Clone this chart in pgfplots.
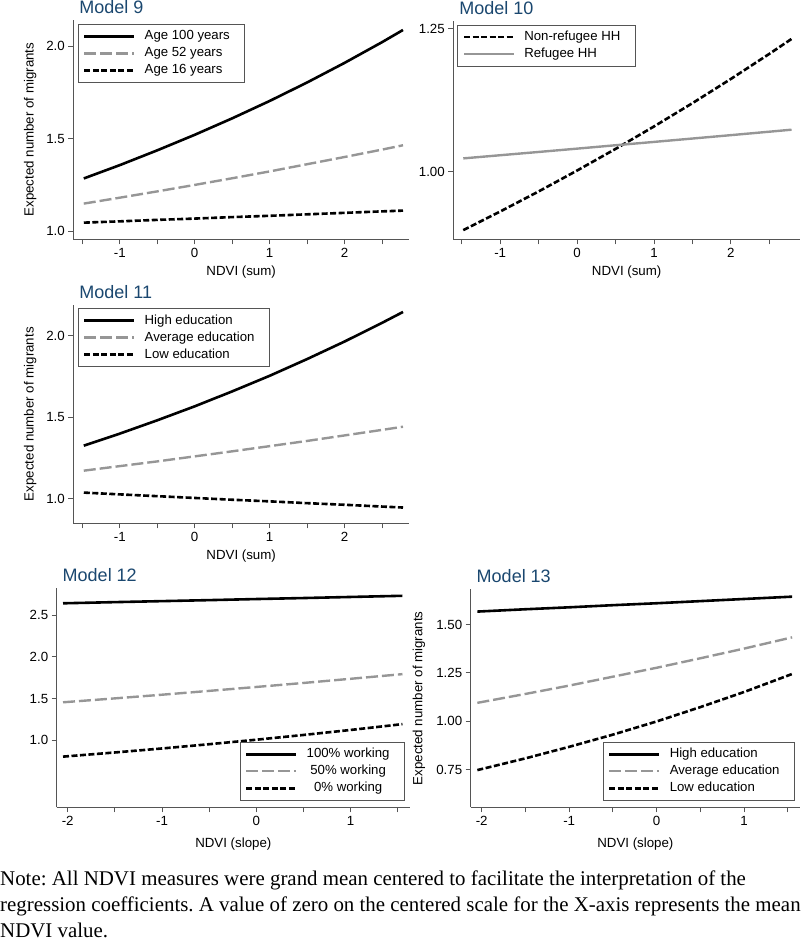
\documentclass[border=0pt]{standalone}
\usepackage{pgfplots}
\pgfplotsset{compat=1.18}
\usepackage{fontspec}
\setmainfont{Liberation Sans}
\newfontfamily\notefont{Liberation Serif}

\definecolor{statanavy}{RGB}{26,71,111}
\definecolor{midgray}{RGB}{150,150,150}
\definecolor{axgray}{RGB}{85,85,85}

\newcommand{\E}[1]{#1\hspace*{9.5pt}}

\pgfplotsset{
  legend image code/.code={\draw[#1] (0pt,0pt) -- (50pt,0pt);},
  panel/.style={
    scale only axis,
    anchor=south west,
    axis x line*=bottom,
    axis y line*=left,
    axis line style={axgray, line width=0.8pt, -},
    every tick/.style={axgray, line width=0.8pt},
    tick align=outside,
    major tick length=5pt,
    enlargelimits=false,
    tick label style={font=\fontsize{13.3}{15}\selectfont, text=black},
    xticklabel style={text height=9.8pt, text depth=0pt},
    yticklabel style={text height=9.8pt, text depth=0pt},
    label style={font=\fontsize{13.3}{15}\selectfont},
    title style={font=\fontsize{18}{20}\selectfont, text=statanavy,
      at={([xshift=2.5pt,yshift=0.5pt]axis description cs:0,1)}, anchor=base west},
    legend style={draw=axgray, line width=0.8pt, font=\fontsize{13.2}{15}\selectfont,
      inner sep=5pt, row sep=3pt, column sep=8.5pt,
      nodes={inner sep=0.5pt, text height=10pt, text depth=3pt}},
    legend cell align=left,
  },
  sumx/.style={xmin=-1.62, xmax=2.86,
    xtick={-1.5,-1,...,2.5}, xticklabels={{},{-1},{},{0},{},{1},{},{2},{}},
    xlabel={NDVI (sum)},
    xlabel style={at={([yshift=-33pt]axis description cs:0.5,0)}, anchor=center}},
  slopex/.style={
    xtick={-2,-1.5,...,1.5}, xticklabels={{-2},{},{-1},{},{0},{},{1},{}},
    xlabel={NDVI (slope)},
    xlabel style={at={([yshift=-37pt]axis description cs:0.5,0)}, anchor=center}},
  ylab/.style={ylabel={Expected number of migrants},
    ylabel style={at={([xshift=-#1]axis description cs:0,0.5)}, anchor=center}},
  blk/.style={black, line width=2.6pt},
  gryd/.style={midgray, line width=2.4pt, dash pattern=on 12pt off 4pt},
  gry/.style={midgray, line width=2.4pt},
  blkd/.style={black, line width=2.6pt, dash pattern=on 6pt off 2.5pt},
}

\begin{document}
\frenchspacing
\begin{tikzpicture}[x=1pt,y=1pt]
\useasboundingbox (0,0) rectangle (800,941);

% Model 9
\begin{axis}[panel, sumx, ylab=43pt, at={(73.3pt,701.7pt)},
  width=335.7pt, height=219.3pt,
  ymin=0.955, ymax=2.141,
  ytick={1,1.5,2}, yticklabels={1.0,1.5,2.0},
  title={Model 9},
  legend style={at={([xshift=4.4pt,yshift=-4pt]axis description cs:0,1)}, anchor=north west}]
\addplot[blk] coordinates {(-1.48,1.284)(-1,1.356)(-0.5,1.436)(0,1.520)(0.5,1.609)(1,1.703)(1.5,1.803)(2,1.909)(2.5,2.021)(2.78,2.087)};
\addlegendentry{\E{Age 100 years}}
\addplot[gryd] coordinates {(-1.48,1.148)(-1,1.180)(-0.5,1.214)(0,1.249)(0.5,1.285)(1,1.322)(1.5,1.361)(2,1.400)(2.5,1.440)(2.78,1.4635)};
\addlegendentry{\E{Age 52 years}}
\addplot[blkd] coordinates {(-1.48,1.045)(-1,1.052)(-0.5,1.060)(0,1.067)(0.5,1.075)(1,1.082)(1.5,1.090)(2,1.098)(2.5,1.106)(2.78,1.110)};
\addlegendentry{\E{Age 16 years}}
\end{axis}

% Model 10
\begin{axis}[panel, sumx, xmin=-1.61, xmax=2.9, at={(453.3pt,701.7pt)},
  width=346.7pt, height=218.6pt,
  ymin=0.882, ymax=1.263,
  ytick={1,1.25}, yticklabels={1.00,1.25},
  title={Model 10},
  legend style={at={([xshift=4pt,yshift=-4pt]axis description cs:0,1)}, anchor=north west}]
\addplot[blkd] coordinates {(-1.48,0.898)(-1,0.9304)(-0.5,0.9654)(0,1.0018)(0.5,1.0395)(1,1.0786)(1.5,1.1192)(2,1.1614)(2.5,1.2051)(2.79,1.2312)};
\addlegendentry{\E{Non-refugee HH}}
\addplot[gry] coordinates {(-1.48,1.023)(-1,1.0285)(-0.5,1.0342)(0,1.0400)(0.5,1.0459)(1,1.0517)(1.5,1.0576)(2,1.0635)(2.5,1.0695)(2.79,1.0730)};
\addlegendentry{\E{Refugee HH}}
\end{axis}

% Model 11
\begin{axis}[panel, sumx, ylab=43pt, at={(73.3pt,417.7pt)},
  width=335.7pt, height=218.3pt,
  ymin=0.846, ymax=2.19,
  ytick={1,1.5,2}, yticklabels={1.0,1.5,2.0},
  title={Model 11},
  legend style={at={([xshift=4.4pt,yshift=-3.3pt]axis description cs:0,1)}, anchor=north west}]
\addplot[blk] coordinates {(-1.48,1.324)(-1,1.398)(-0.5,1.480)(0,1.566)(0.5,1.658)(1,1.754)(1.5,1.857)(2,1.965)(2.5,2.080)(2.78,2.147)};
\addlegendentry{\E{High education}}
\addplot[gryd] coordinates {(-1.48,1.170)(-1,1.198)(-0.5,1.227)(0,1.258)(0.5,1.289)(1,1.321)(1.5,1.353)(2,1.387)(2.5,1.421)(2.78,1.4405)};
\addlegendentry{\E{Average education}}
\addplot[blkd] coordinates {(-1.48,1.035)(-1,1.024)(-0.5,1.013)(0,1.002)(0.5,0.991)(1,0.981)(1.5,0.970)(2,0.960)(2.5,0.949)(2.78,0.943)};
\addlegendentry{\E{Low education}}
\end{axis}

% Model 12
\begin{axis}[panel, slopex, xmin=-2.117, xmax=1.63, at={(56.7pt,133.7pt)},
  width=353.3pt, height=219pt,
  ymin=0.192, ymax=2.82,
  ytick={1,1.5,2,2.5}, yticklabels={1.0,1.5,2.0,2.5},
  title={Model 12},
  legend cell align=center,
  legend style={at={([xshift=-5pt,yshift=6.6pt]axis description cs:1,0)}, anchor=south east}]
\addplot[blk] coordinates {(-2.05,2.640)(-1.5,2.654)(-1,2.666)(-0.5,2.678)(0,2.691)(0.5,2.703)(1,2.716)(1.55,2.730)};
\addlegendentry{\E{100\% working}}
\addplot[gryd] coordinates {(-2.05,1.452)(-1.5,1.499)(-1,1.543)(-0.5,1.589)(0,1.636)(0.5,1.684)(1,1.734)(1.55,1.790)};
\addlegendentry{\E{50\% working}}
\addplot[blkd] coordinates {(-2.05,0.800)(-1.5,0.850)(-1,0.898)(-0.5,0.949)(0,1.003)(0.5,1.060)(1,1.120)(1.55,1.190)};
\addlegendentry{\E{0\% working}}
\end{axis}

% Model 13
\begin{axis}[panel, slopex, ylab=51.7pt, xmin=-2.126, xmax=1.64, at={(470.7pt,133.7pt)},
  width=329.3pt, height=218pt,
  ymin=0.555, ymax=1.68,
  ytick={0.75,1,1.25,1.5}, yticklabels={0.75,1.00,1.25,1.50},
  title={Model 13},
  legend style={at={([xshift=-5pt,yshift=6.6pt]axis description cs:1,0)}, anchor=south east}]
\addplot[blk] coordinates {(-2.05,1.565)(-1.5,1.577)(-1,1.587)(-0.5,1.598)(0,1.608)(0.5,1.619)(1,1.630)(1.55,1.642)};
\addlegendentry{\E{High education}}
\addplot[gryd] coordinates {(-2.05,1.094)(-1.5,1.140)(-1,1.183)(-0.5,1.229)(0,1.275)(0.5,1.324)(1,1.374)(1.55,1.432)};
\addlegendentry{\E{Average education}}
\addplot[blkd] coordinates {(-2.05,0.747)(-1.5,0.8075)(-1,0.867)(-0.5,0.930)(0,0.998)(0.5,1.072)(1,1.150)(1.55,1.243)};
\addlegendentry{\E{Low education}}
\end{axis}

% note below the panels
\begin{scope}[every node/.style={anchor=base west, inner sep=0pt, font=\notefont\fontsize{20.9}{26.5}\selectfont}]
\node at (0,55) {Note: All NDVI measures were grand mean centered to facilitate the interpretation of the};
\node at (0,29) {regression coefficients. A value of zero on the centered scale for the X-axis represents the mean};
\node at (0,3) {NDVI value.};
\end{scope}
\end{tikzpicture}
\end{document}
